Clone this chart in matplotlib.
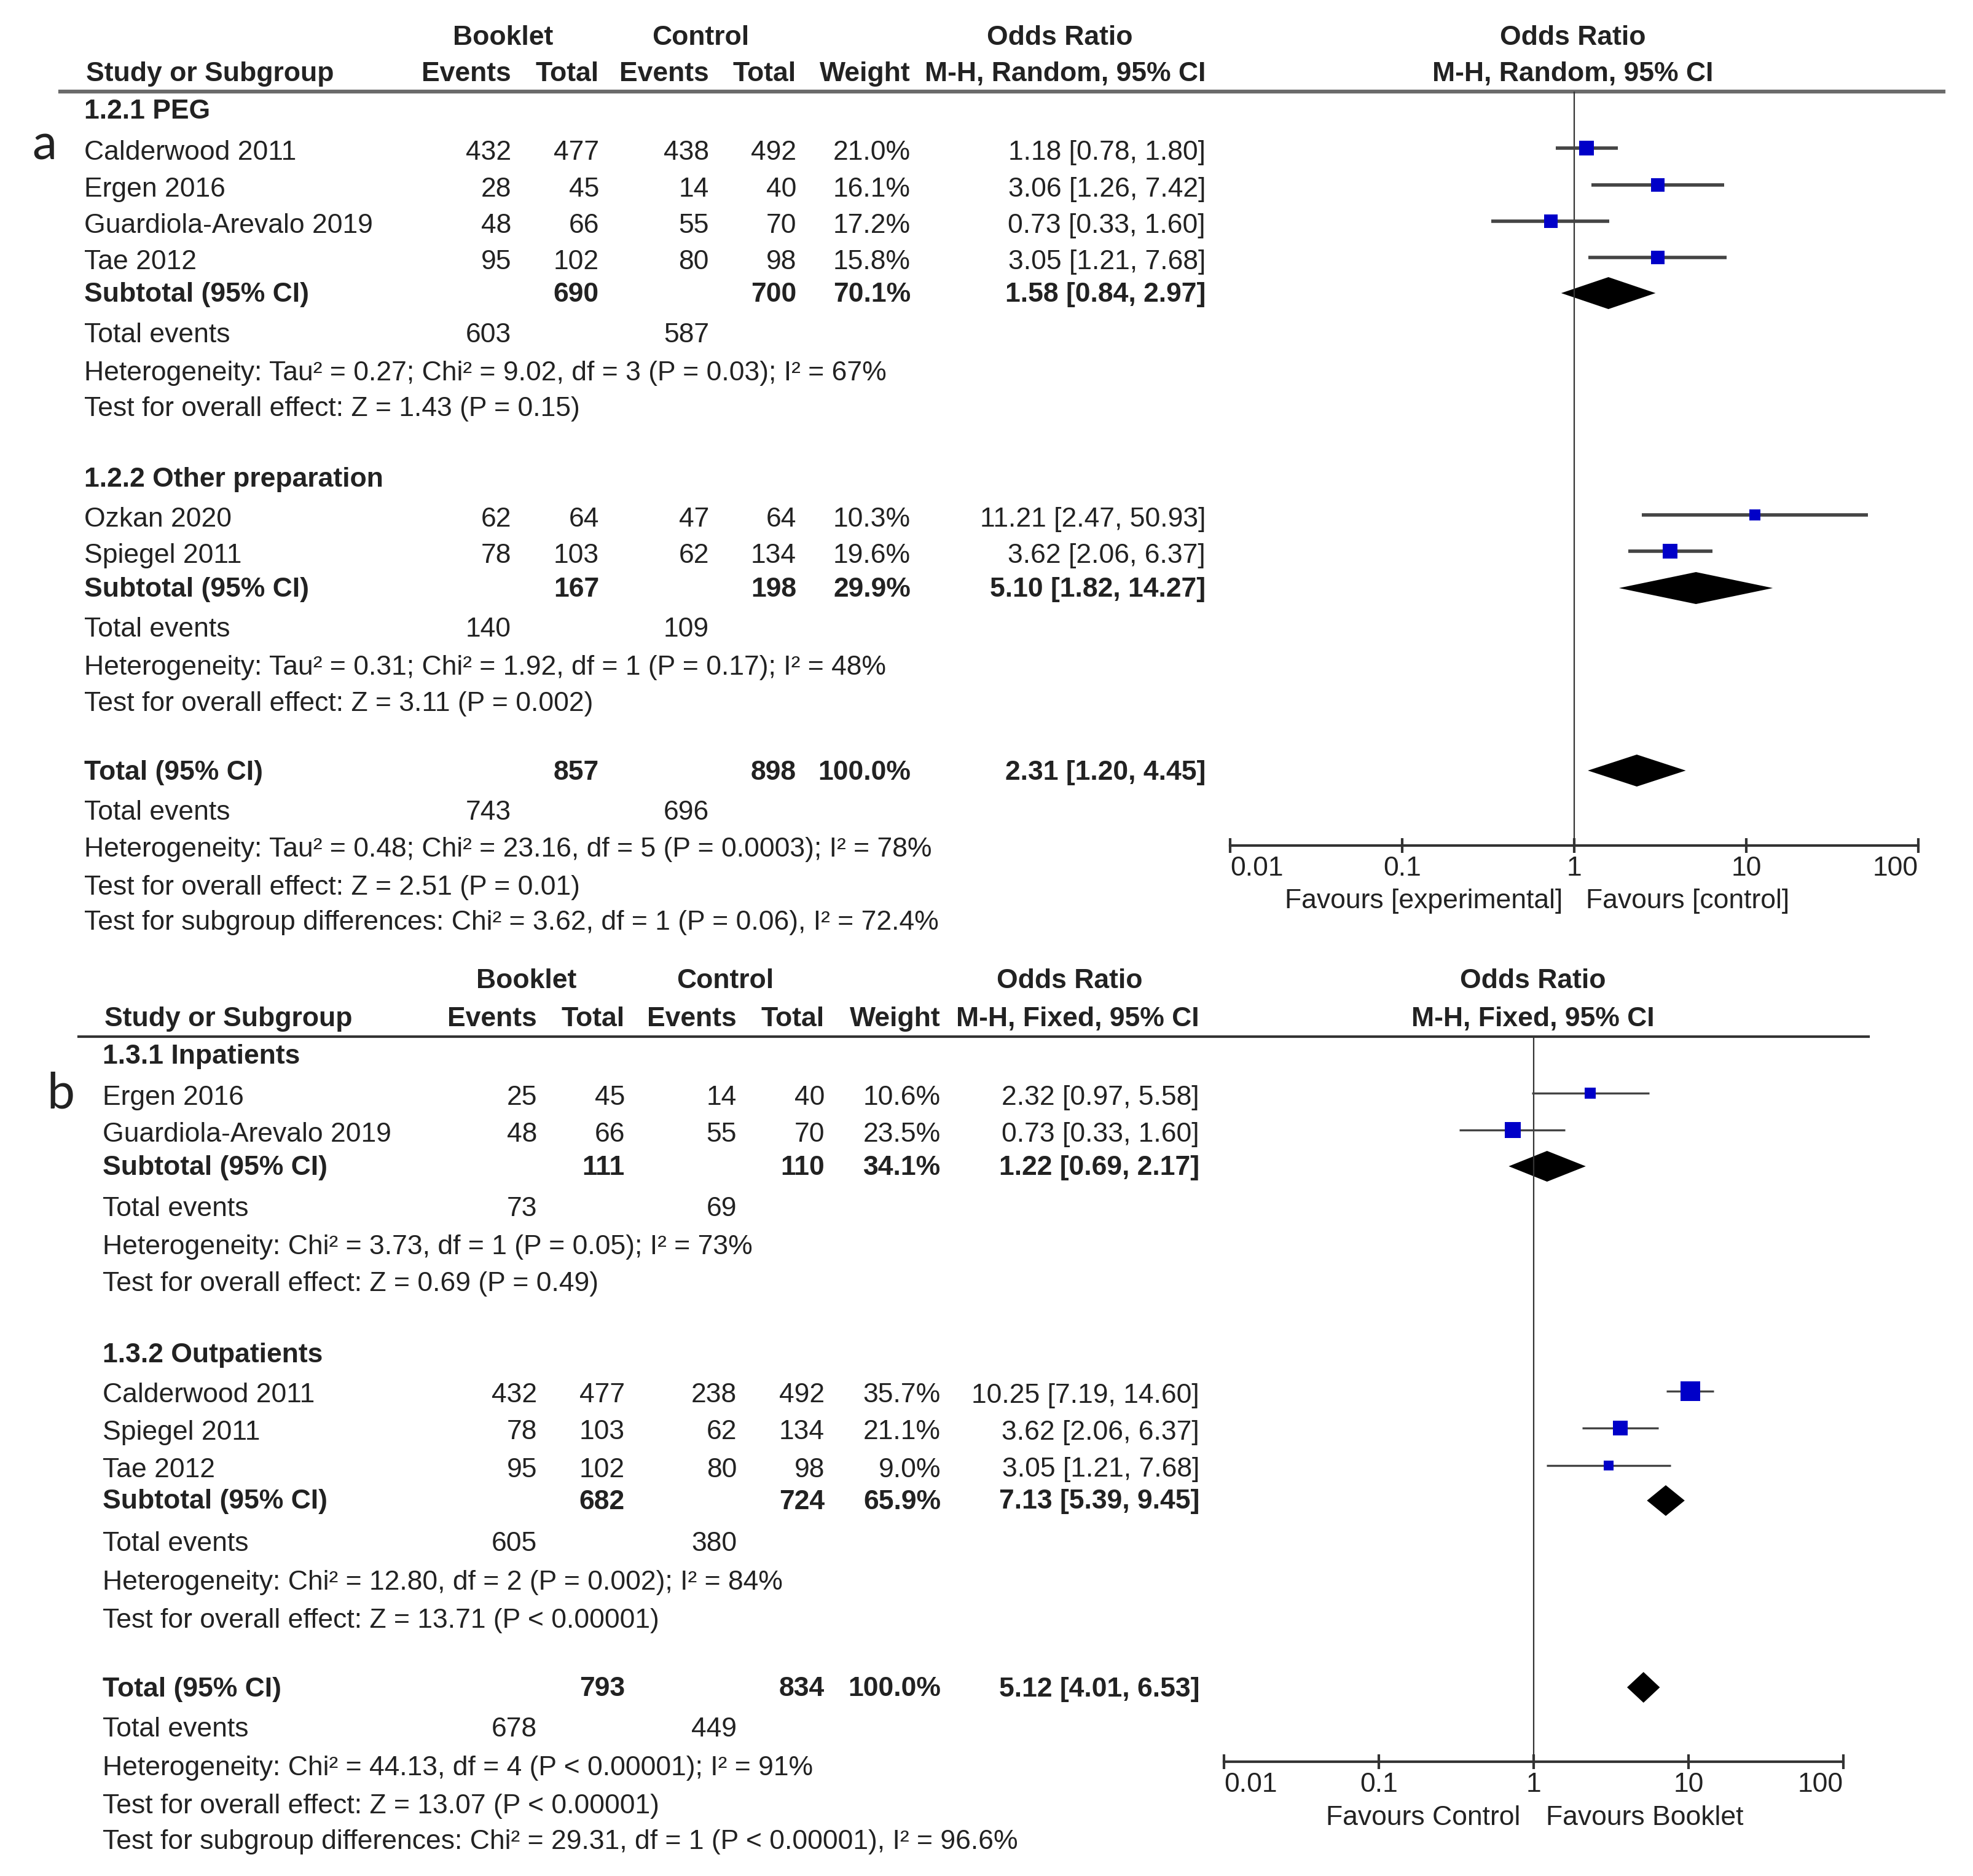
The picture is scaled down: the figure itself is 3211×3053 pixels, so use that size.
import matplotlib.pyplot as plt
from matplotlib.ticker import NullLocator

plt.rcParams['font.family'] = ['Liberation Sans', 'DejaVu Sans']

# ---- panel a : PEG / other preparation (random effects) ----
a1_names = ["Calderwood 2011", "Ergen 2016", "Guardiola-Arevalo 2019", "Tae 2012"]
a1_ev_b = [432, 28, 48, 95]
a1_tot_b = [477, 45, 66, 102]
a1_ev_c = [438, 14, 55, 80]
a1_tot_c = [492, 40, 70, 98]
a1_weight = [21.0, 16.1, 17.2, 15.8]
a1_or = [1.18, 3.06, 0.73, 3.05]
a1_lo = [0.78, 1.26, 0.33, 1.21]
a1_hi = [1.80, 7.42, 1.60, 7.68]
a1_sub = [690, 700, 70.1, 1.58, 0.84, 2.97]
a1_events = [603, 587]
a1_het = "Heterogeneity: Tau² = 0.27; Chi² = 9.02, df = 3 (P = 0.03); I² = 67%"
a1_test = "Test for overall effect: Z = 1.43 (P = 0.15)"

a2_names = ["Ozkan 2020", "Spiegel 2011"]
a2_ev_b = [62, 78]
a2_tot_b = [64, 103]
a2_ev_c = [47, 62]
a2_tot_c = [64, 134]
a2_weight = [10.3, 19.6]
a2_or = [11.21, 3.62]
a2_lo = [2.47, 2.06]
a2_hi = [50.93, 6.37]
a2_sub = [167, 198, 29.9, 5.10, 1.82, 14.27]
a2_events = [140, 109]
a2_het = "Heterogeneity: Tau² = 0.31; Chi² = 1.92, df = 1 (P = 0.17); I² = 48%"
a2_test = "Test for overall effect: Z = 3.11 (P = 0.002)"

a_total = [857, 898, 100.0, 2.31, 1.20, 4.45]
a_events = [743, 696]
a_het = "Heterogeneity: Tau² = 0.48; Chi² = 23.16, df = 5 (P = 0.0003); I² = 78%"
a_test = "Test for overall effect: Z = 2.51 (P = 0.01)"
a_diff = "Test for subgroup differences: Chi² = 3.62, df = 1 (P = 0.06), I² = 72.4%"

# ---- panel b : inpatients / outpatients (fixed effect) ----
b1_names = ["Ergen 2016", "Guardiola-Arevalo 2019"]
b1_ev_b = [25, 48]
b1_tot_b = [45, 66]
b1_ev_c = [14, 55]
b1_tot_c = [40, 70]
b1_weight = [10.6, 23.5]
b1_or = [2.32, 0.73]
b1_lo = [0.97, 0.33]
b1_hi = [5.58, 1.60]
b1_sub = [111, 110, 34.1, 1.22, 0.69, 2.17]
b1_events = [73, 69]
b1_het = "Heterogeneity: Chi² = 3.73, df = 1 (P = 0.05); I² = 73%"
b1_test = "Test for overall effect: Z = 0.69 (P = 0.49)"

b2_names = ["Calderwood 2011", "Spiegel 2011", "Tae 2012"]
b2_ev_b = [432, 78, 95]
b2_tot_b = [477, 103, 102]
b2_ev_c = [238, 62, 80]
b2_tot_c = [492, 134, 98]
b2_weight = [35.7, 21.1, 9.0]
b2_or = [10.25, 3.62, 3.05]
b2_lo = [7.19, 2.06, 1.21]
b2_hi = [14.60, 6.37, 7.68]
b2_sub = [682, 724, 65.9, 7.13, 5.39, 9.45]
b2_events = [605, 380]
b2_het = "Heterogeneity: Chi² = 12.80, df = 2 (P = 0.002); I² = 84%"
b2_test = "Test for overall effect: Z = 13.71 (P < 0.00001)"

b_total = [793, 834, 100.0, 5.12, 4.01, 6.53]
b_events = [678, 449]
b_het = "Heterogeneity: Chi² = 44.13, df = 4 (P < 0.00001); I² = 91%"
b_test = "Test for overall effect: Z = 13.07 (P < 0.00001)"
b_diff = "Test for subgroup differences: Chi² = 29.31, df = 1 (P < 0.00001), I² = 96.6%"

tick_vals = [0.01, 0.1, 1, 10, 100]
tick_labels = ["0.01", "0.1", "1", "10", "100"]


W, H = 3211, 3053
FS = 32
TXT = "#222222"
BLUE = "#0000c8"

fig = plt.figure(figsize=(W / 100, H / 100), dpi=100)
bg = fig.add_axes([0, 0, 1, 1])
bg.set_xlim(0, W)
bg.set_ylim(H, 0)
bg.axis("off")


def txt(x, y, s, ha="left", bold=False, size=FS, **kw):
    bg.text(x, y, s, ha=ha, va="center", fontsize=size, color=TXT,
            fontweight="bold" if bold else "normal", **kw)


def fmt_ci(v, lo, hi):
    return f"{v:.2f} [{lo:.2f}, {hi:.2f}]"


def forest_axes(x0, x1, y0, y1, lw_axis):
    ax = fig.add_axes([x0 / W, 1 - y1 / H, (x1 - x0) / W, (y1 - y0) / H])
    ax.set_xscale("log")
    ax.set_xlim(0.01, 100)
    ax.set_ylim(y1, y0)
    ax.patch.set_alpha(0)
    for s in ["top", "left", "right"]:
        ax.spines[s].set_visible(False)
    ax.spines["bottom"].set_linewidth(lw_axis)
    ax.spines["bottom"].set_color("#333333")
    ax.set_yticks([])
    ax.set_xticks(tick_vals, labels=tick_labels)
    ax.xaxis.set_minor_locator(NullLocator())
    ax.tick_params(axis="x", direction="inout", length=17, width=lw_axis,
                   color="#333333", labelsize=FS, labelcolor=TXT, pad=4)
    labs = ax.get_xticklabels()
    labs[0].set_ha("left")
    labs[-1].set_ha("right")
    ax.axvline(1, color="#333333", lw=1.6)
    return ax


def diamond(ax, y, est, lo, hi, h):
    ax.fill([lo, est, hi, est], [y, y - h, y, y + h], color="black", lw=0)


def draw_panel(ax, cols, left, header, groups, overall, ci_lw, hd, heads):
    # column headings
    ev_b, tot_b, ev_c, tot_c, wcol, cicol = cols
    y1, y2 = header["y"]
    txt(header["booklet"], y1, "Booklet", ha="center", bold=True)
    txt(header["control"], y1, "Control", ha="center", bold=True)
    txt(header["or"], y1, "Odds Ratio", ha="center", bold=True)
    txt(left + 3, y2, "Study or Subgroup", bold=True)
    for x, s in zip([ev_b, tot_b, ev_c, tot_c, wcol], ["Events", "Total", "Events", "Total", "Weight"]):
        txt(x, y2, s, ha="right", bold=True)
    txt(cicol, y2, heads[1], ha="right", bold=True)
    txt(header["plot"], y1, "Odds Ratio", ha="center", bold=True)
    txt(header["plot"], y2, heads[1], ha="center", bold=True)

    for g in groups:
        txt(left, g["head_y"], g["title"], bold=True)
        for i, name in enumerate(g["names"]):
            y = g["rows"][i]
            txt(left, y, name)
            txt(ev_b, y, str(g["ev_b"][i]), ha="right")
            txt(tot_b, y, str(g["tot_b"][i]), ha="right")
            txt(ev_c, y, str(g["ev_c"][i]), ha="right")
            txt(tot_c, y, str(g["tot_c"][i]), ha="right")
            txt(wcol, y, f"{g['w'][i]:.1f}%", ha="right")
            txt(cicol, y, fmt_ci(g["or"][i], g["lo"][i], g["hi"][i]), ha="right")
            ym = y - 7
            ax.plot([g["lo"][i], g["hi"][i]], [ym, ym], color="#444444", lw=ci_lw,
                    solid_capstyle="butt")
            side = 5.3 * g["w"][i] ** 0.5 * 0.72
            ax.plot(g["or"][i], ym, marker="s", ms=side, color=BLUE, mew=0)
        s = g["sub"]
        ys = g["sub_y"]
        txt(left, ys, "Subtotal (95% CI)", bold=True)
        txt(tot_b, ys, str(s[0]), ha="right", bold=True)
        txt(tot_c, ys, str(s[1]), ha="right", bold=True)
        txt(wcol, ys, f"{s[2]:.1f}%", ha="right", bold=True)
        txt(cicol, ys, fmt_ci(s[3], s[4], s[5]), ha="right", bold=True)
        diamond(ax, ys - 2, s[3], s[4], s[5], hd)
        txt(left, g["ev_y"], "Total events")
        txt(ev_b, g["ev_y"], str(g["events"][0]), ha="right")
        txt(ev_c, g["ev_y"], str(g["events"][1]), ha="right")
        txt(left, g["het_y"], g["het"])
        txt(left, g["test_y"], g["test"])

    t = overall["total"]
    yt = overall["y"][0]
    txt(left, yt, "Total (95% CI)", bold=True)
    txt(tot_b, yt, str(t[0]), ha="right", bold=True)
    txt(tot_c, yt, str(t[1]), ha="right", bold=True)
    txt(wcol, yt, f"{t[2]:.1f}%", ha="right", bold=True)
    txt(cicol, yt, fmt_ci(t[3], t[4], t[5]), ha="right", bold=True)
    diamond(ax, yt - 3, t[3], t[4], t[5], hd)
    txt(left, overall["y"][1], "Total events")
    txt(ev_b, overall["y"][1], str(overall["events"][0]), ha="right")
    txt(ev_c, overall["y"][1], str(overall["events"][1]), ha="right")
    txt(left, overall["y"][2], overall["het"])
    txt(left, overall["y"][3], overall["test"])
    txt(left, overall["y"][4], overall["diff"])


# ---------------- panel a ----------------
ax_a = forest_axes(2002, 3122, 149, 1376, 3.0)
bg.plot([98, 3163], [149, 149], color="#6a6a6a", lw=4.5)
txt(72, 236, "a", ha="center", size=58, family=["Lato", "DejaVu Sans"])
draw_panel(
    ax_a, [832, 975, 1154, 1296, 1482, 1962], 137,
    dict(y=(61, 120), booklet=819, control=1140, plot=2560, **{"or": 1725}),
    [dict(title="1.2.1 PEG", head_y=181, names=a1_names, rows=[248, 308, 367, 426],
          ev_b=a1_ev_b, tot_b=a1_tot_b, ev_c=a1_ev_c, tot_c=a1_tot_c, w=a1_weight,
          **{"or": a1_or}, lo=a1_lo, hi=a1_hi, sub=a1_sub, sub_y=479,
          events=a1_events, ev_y=545, het=a1_het, het_y=607, test=a1_test, test_y=665),
     dict(title="1.2.2 Other preparation", head_y=780, names=a2_names, rows=[845, 904],
          ev_b=a2_ev_b, tot_b=a2_tot_b, ev_c=a2_ev_c, tot_c=a2_tot_c, w=a2_weight,
          **{"or": a2_or}, lo=a2_lo, hi=a2_hi, sub=a2_sub, sub_y=959,
          events=a2_events, ev_y=1024, het=a2_het, het_y=1086, test=a2_test, test_y=1145)],
    dict(total=a_total, events=a_events, het=a_het, test=a_test, diff=a_diff,
         y=[1257, 1322, 1382, 1444, 1501]),
    4.0, 26, ("Odds Ratio", "M-H, Random, 95% CI"))
txt(2543, 1466, "Favours [experimental]", ha="right")
txt(2581, 1466, "Favours [control]", ha="left")

# ---------------- panel b ----------------
ax_b = forest_axes(1992, 3000, 1687, 2867, 3.0)
bg.plot([128, 3041], [1687, 1687], color="#333333", lw=3.0)
txt(99, 1780, "b", ha="center", size=58, family=["Lato", "DejaVu Sans"])
draw_panel(
    ax_b, [874, 1017, 1199, 1342, 1531, 1952], 167,
    dict(y=(1596, 1658), booklet=857, control=1180, plot=2495, **{"or": 1741}),
    [dict(title="1.3.1 Inpatients", head_y=1719, names=b1_names, rows=[1786, 1846],
          ev_b=b1_ev_b, tot_b=b1_tot_b, ev_c=b1_ev_c, tot_c=b1_tot_c, w=b1_weight,
          **{"or": b1_or}, lo=b1_lo, hi=b1_hi, sub=b1_sub, sub_y=1900,
          events=b1_events, ev_y=1967, het=b1_het, het_y=2029, test=b1_test, test_y=2089),
     dict(title="1.3.2 Outpatients", head_y=2205, names=b2_names, rows=[2271, 2331, 2392],
          ev_b=b2_ev_b, tot_b=b2_tot_b, ev_c=b2_ev_c, tot_c=b2_tot_c, w=b2_weight,
          **{"or": b2_or}, lo=b2_lo, hi=b2_hi, sub=b2_sub, sub_y=2444,
          events=b2_events, ev_y=2513, het=b2_het, het_y=2576, test=b2_test, test_y=2637)],
    dict(total=b_total, events=b_events, het=b_het, test=b_test, diff=b_diff,
         y=[2749, 2815, 2878, 2939, 2997]),
    2.4, 25, ("Odds Ratio", "M-H, Fixed, 95% CI"))
txt(2474, 2959, "Favours Control", ha="right")
txt(2516, 2959, "Favours Booklet", ha="left")

fig.savefig("out.png", dpi=100, facecolor="white")
